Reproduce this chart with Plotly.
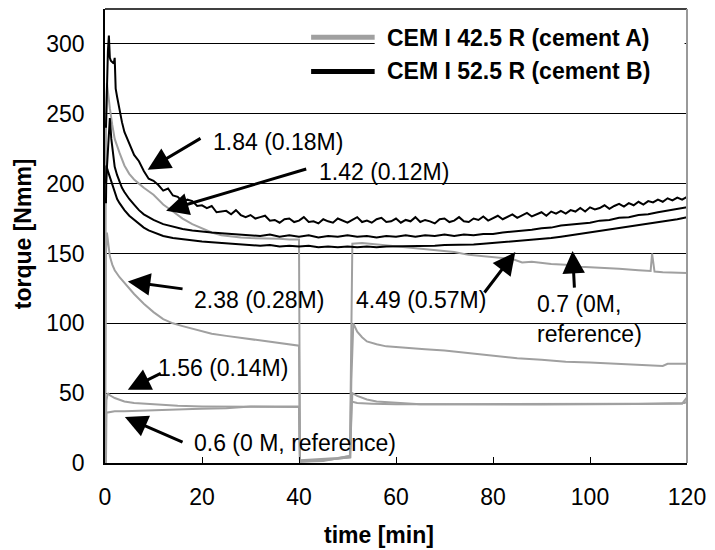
import plotly.graph_objects as go

# ---------------- data ----------------
# Cement A (CEM I 42.5 R) - grey curves
a06_t = [0, 0.2, 0.3, 1, 2, 4, 6, 8, 10, 12, 14, 16, 18, 20, 25, 30, 35, 40,
         40.2, 42, 44, 46, 48, 50, 50.6, 50.8, 52, 55, 60, 70, 80, 90, 100, 110, 119.5, 120]
a06_v = [0, 0, 36, 36.5, 37, 37, 37.3, 37.5, 37.8, 38, 38.2, 38.4, 38.6, 38.8, 39.2, 40.5, 40.5, 40.5,
         1.5, 1.5, 2, 2.5, 3, 3.5, 4, 44, 43, 42.5, 42, 42, 42, 42, 42.5, 42.5, 43, 44]

a156_t = [0, 0.3, 0.6, 1, 2, 3, 4, 6, 8, 10, 12, 15, 20, 25, 30, 35, 40,
          40.2, 44, 48, 50.5, 50.7, 51, 52, 54, 56, 60, 65, 70, 80, 90, 100, 110, 119, 120]
a156_v = [0, 45, 50, 48.5, 46.5, 45, 44, 43, 42.5, 42, 41.5, 41, 40.5, 40.3, 40, 40, 40,
          2, 2.5, 3.5, 5, 30, 50, 48, 45.5, 44, 43, 42, 42, 41.8, 41.8, 42, 42.2, 42.5, 47]

a238_t = [0, 0.2, 0.4, 0.7, 1, 1.5, 2, 3, 4, 5, 6, 8, 10, 12, 14, 16, 18, 20, 22, 25, 28, 31, 34, 37, 40,
          40.2, 45, 50.5, 50.8, 51.2, 52, 53, 54, 56, 58, 60, 63, 66, 70, 75, 80, 85, 90, 95, 100, 105,
          110, 115, 116, 120]
a238_v = [0, 150, 165, 155, 148, 142, 138, 133, 129, 125, 121, 114, 108, 103, 100, 98, 96, 94, 92.5, 91,
          89.5, 88, 86.5, 85, 84,
          1, 2, 4, 60, 100, 94, 90, 87, 85, 83.5, 83, 82, 81.5, 80.5, 78.5, 76.5, 75, 74, 72.5, 72, 71,
          70, 69.5, 71, 71]

a449_t = [0, 0.2, 0.4, 0.7, 1, 1.5, 2, 3, 4, 5, 6, 7, 8, 10, 12, 14, 16, 18, 20, 22, 24, 26, 28, 30, 33,
          36, 38, 40, 40.2, 45, 50.5, 50.8, 51, 53, 56, 60, 63, 66, 70, 72, 75, 78, 80, 84, 86, 88, 92, 95,
          98, 102, 106, 110, 112.5, 112.8, 113.3, 115, 118, 120]
a449_v = [0, 240, 272, 262, 254, 242, 232, 222, 213, 207, 203, 200, 197, 192, 185, 180, 175, 171, 168, 165,
          163, 162, 161.5, 161, 161, 160.5, 160, 160, 1, 1.5, 5, 100, 157, 157.5, 156.5, 155, 154, 153, 152,
          151, 149, 148, 147, 146, 143.5, 144, 142.5, 142, 140.5, 140, 139, 138, 137.5, 150, 137, 136.5,
          136, 136]

# Cement B (CEM I 52.5 R) - black curves
b184_t = [0.2, 0.4, 0.6, 0.8, 1.0, 1.2, 1.5, 1.8, 2.0, 2.05, 2.2, 2.5, 3.0, 3.5, 4.0, 4.5] + list(range(5, 121))
b184_v = [240, 280, 295, 306, 290, 288, 287, 286, 290, 270, 268, 262, 252, 244, 237, 233,
          229, 220.5, 216, 209, 203.5, 202, 199, 195, 196.5, 191.5, 190.5, 187, 188.5, 187.5, 184, 184.5,
          182.5, 184, 179.5, 180, 180.5, 178, 181, 177.5, 176, 177.5, 175, 176, 177, 173.5, 174, 172,
          174.5, 175, 172.5, 173.5, 176, 172.5, 173, 171.5, 174.5, 173, 172, 175, 173.5, 172, 174, 176,
          172.5, 173.5, 172, 174.5, 175.5, 172.5, 173, 175, 172, 174, 173, 176, 172.5, 174, 173, 171.5,
          174.5, 175, 172.5, 173.5, 176, 173, 172.5, 175, 174, 176.5, 173.5, 175, 177, 174.5, 176, 178,
          175.5, 177, 179, 176.5, 178, 179.5, 177, 180, 178.5, 180.5, 178.5, 181, 180, 182.5, 180, 183,
          181.5, 182.5, 184.5, 182, 184, 185.5, 183.5, 186, 184.5, 187, 185, 187.5, 186.5, 188.5, 187,
          189.5, 188, 190, 188.5, 190.5]

b142_t = [0.2, 0.5, 0.8, 1.0, 1.3, 1.6, 2, 2.5, 3, 3.5, 4, 5, 6, 7, 8, 9, 10, 12, 14, 16, 18, 20, 22,
          24, 26, 28, 30] + list(range(32, 121, 2))
b142_v = [200, 215, 235, 247, 232, 222, 212, 206, 201, 197, 194, 189, 185, 181, 178, 176, 174, 171, 169,
          167.5, 166.5, 165.5, 165, 164.5, 164, 163.5, 163,
          162.5, 163.5, 162, 163, 162, 163, 161.5, 162.5, 162, 163, 162, 162.5, 161.5, 162.5, 162, 163,
          162, 163, 162.5, 163.5, 162.5, 163.5, 163, 164, 164, 165, 165.5, 166.5, 167, 168, 168.5, 170,
          170.5, 171.5, 172, 173.5, 174, 175.5, 176, 177.5, 178, 179.5, 180.5, 182, 183]

b07_t = [0.2, 0.3, 0.5, 0.8, 1.0, 1.5, 2, 2.5, 3, 4, 5, 6, 7, 8, 9, 10, 12, 14, 16, 18, 20, 22, 24, 26,
         28, 30] + list(range(32, 121, 2))
b07_v = [186, 213, 210, 207, 205, 200, 194, 189, 186, 181, 177, 174, 171, 168.5, 166.5, 165, 162.5, 161,
         160, 159, 158.5, 158, 157.5, 157, 156.5, 156,
         155.5, 156, 155, 155.5, 155, 155.5, 154.5, 155, 154.5, 155, 154.5, 155, 154.5, 155, 155, 155.5,
         155, 155.5, 155.5, 156, 156, 156.5, 156.5, 157, 157.5, 158, 158.5, 159, 159.5, 160.5, 161, 162,
         163, 164, 165, 166, 167.5, 168.5, 169.5, 170.5, 171.5, 172.5, 173.5, 174.5, 176]

x_ticks = [0, 20, 40, 60, 80, 100, 120]
y_ticks = [0, 50, 100, 150, 200, 250, 300]
legend_names = ["CEM I 42.5 R (cement A)", "CEM I 52.5 R (cement B)"]

GREY = "#a0a0a0"
FONT = "Liberation Sans, Arial, sans-serif"
FS = 23

fig = go.Figure()
for t, v in [(a06_t, a06_v), (a156_t, a156_v), (a238_t, a238_v), (a449_t, a449_v)]:
    fig.add_trace(go.Scatter(x=t, y=v, mode="lines", line=dict(color=GREY, width=2),
                             showlegend=False, hoverinfo="skip"))
for t, v in [(b07_t, b07_v), (b142_t, b142_v), (b184_t, b184_v)]:
    fig.add_trace(go.Scatter(x=t, y=v, mode="lines", line=dict(color="black", width=2),
                             showlegend=False, hoverinfo="skip"))

# labels: (text, text_x, text_y, tip_x, tip_y, tail_x, tail_y)
labels = [
    ("1.84 (0.18M)", 21.8, 230, 8.8, 210, 20.0, 233),
    ("1.42 (0.12M)", 43.8, 208.6, 12.6, 180.6, 41.8, 210.8),
    ("2.38 (0.28M)", 17.9, 117, 4.7, 130, 16.3, 124.5),
    ("4.49 (0.57M)", 51.3, 117, 84.6, 151, 78.0, 121),
    ("0.7 (0M,<br>reference)", 88.6, 103, 96.4, 151.8, 96.8, 124.5),
    ("1.56 (0.14M)", 10.6, 68.3, 4.7, 52.5, 11.8, 64.7),
    ("0.6 (0 M, reference)", 17.9, 14.4, 4.1, 33, 16.3, 14.4),
]
annotations = []
for txt, tx, ty, hx, hy, sx, sy in labels:
    annotations.append(dict(x=hx, y=hy, ax=sx, ay=sy, axref="x", ayref="y", xref="x", yref="y",
                            text="", showarrow=True, arrowhead=2, arrowsize=1.5, arrowwidth=3,
                            arrowcolor="black"))
    annotations.append(dict(x=tx, y=ty, xref="x", yref="y", text=txt, showarrow=False,
                            xanchor="left", yanchor="middle", align="left",
                            font=dict(family=FONT, size=FS, color="black")))

# manual legend
annotations.append(dict(x=57.8, y=304.5, xref="x", yref="y", text="<b>%s</b>" % legend_names[0],
                        showarrow=False, xanchor="left", yanchor="middle",
                        font=dict(family=FONT, size=FS, color="black")))
annotations.append(dict(x=57.8, y=280.5, xref="x", yref="y", text="<b>%s</b>" % legend_names[1],
                        showarrow=False, xanchor="left", yanchor="middle",
                        font=dict(family=FONT, size=FS, color="black")))

# axis titles
annotations.append(dict(x=0.4716, y=-0.159, xref="paper", yref="paper", text="<b>time [min]</b>",
                        showarrow=False, xanchor="center", yanchor="middle",
                        font=dict(family=FONT, size=FS, color="black")))
annotations.append(dict(x=-0.1408, y=0.504, xref="paper", yref="paper", text="<b>torque [Nmm]</b>",
                        showarrow=False, xanchor="center", yanchor="middle", textangle=-90,
                        font=dict(family=FONT, size=FS, color="black")))

shapes = [
    dict(type="rect", xref="x", yref="y", x0=55.6, x1=119.5, y0=268, y1=318, layer="between",
         fillcolor="white", line=dict(width=0)),
    dict(type="line", xref="x", yref="y", x0=42.5, x1=55.6, y0=304.7, y1=304.7,
         line=dict(color=GREY, width=5)),
    dict(type="line", xref="x", yref="y", x0=42.5, x1=55.6, y0=280.3, y1=280.3,
         line=dict(color="black", width=5)),
    # top border (black) and right border (grey)
    dict(type="line", xref="paper", yref="paper", x0=0, x1=1, y0=1, y1=1,
         line=dict(color="black", width=1.5)),
    dict(type="line", xref="paper", yref="paper", x0=1, x1=1, y0=0, y1=1,
         line=dict(color="#999999", width=2)),
]

fig.update_layout(
    width=715, height=550,
    margin=dict(l=105, r=20.5, t=9.3, b=86.7),
    paper_bgcolor="white", plot_bgcolor="white",
    font=dict(family=FONT, size=FS, color="black"),
    showlegend=False,
    annotations=annotations,
    shapes=shapes,
    xaxis=dict(range=[0, 120], tickvals=x_ticks, ticktext=[str(v) for v in x_ticks],
               showgrid=False, zeroline=False, showline=True, linecolor="black", linewidth=2,
               ticks="inside", ticklen=6, tickcolor="black", tickwidth=1,
               ticklabelstandoff=12,
               tickfont=dict(family=FONT, size=FS)),
    yaxis=dict(range=[0, 325], tickvals=y_ticks, ticktext=[str(v) for v in y_ticks],
               showgrid=True, gridcolor="black", gridwidth=1, zeroline=False,
               showline=True, linecolor="black", linewidth=1.5, ticks="",
               ticklabelstandoff=14,
               tickfont=dict(family=FONT, size=FS)),
)

fig.write_html("out.html")
